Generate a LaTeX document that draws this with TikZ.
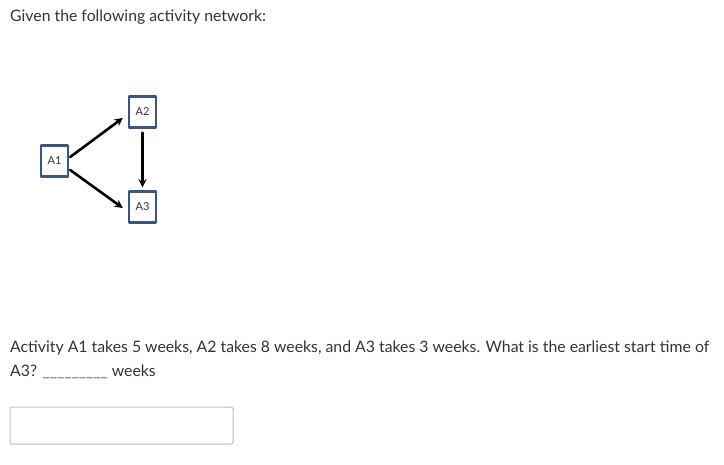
\documentclass[tikz,border=0pt]{standalone}
\usepackage{fontspec}
\setmainfont{Lato}
\usetikzlibrary{calc}
\usetikzlibrary{arrows}

\begin{document}
\begin{tikzpicture}[x=1pt, y=-1pt, line cap = round, line join = round, >=stealth]
\tikzstyle{act}=[draw={rgb,255:red,60;green,85;blue,125}, line width=2.4pt, fill=white, minimum width=27pt, minimum height=31pt, inner sep=0pt, font=\fontsize{11}{13}\selectfont, text=black!80]
\tikzstyle{txt}=[anchor=base west, inner sep=0pt, font=\fontsize{15.8}{19}\selectfont, text=black!80]
\useasboundingbox (0,0) rectangle (724,464);

\node[txt] (head) at (10,21) {Given the following activity network:};

\node[act] (A1) at (54.5,161) {A1};
\node[act] (A2) at (142.5,112) {A2};
\node[act] (A3) at (142.5,207) {A3};
\coordinate (up) at ($ (A1.east) + (1,-4) $);
\coordinate (down) at ($ (A1.east) + (1,9) $);

\draw[line width=2.6pt,-stealth,color=black] (up) -- ($ (A2.west) + (-5,6) $);
\draw[line width=2.6pt,-stealth,color=black] (down) -- ($ (A3.west) + (-5,1) $);
\draw[line width=2.6pt,-stealth,color=black] ($ (A2.south) + (0,4) $) -- ($ (A3.north) + (0,-3) $);

\node[txt] (q1) at (10,352) {Activity A1 takes 5 weeks, A2 takes 8 weeks, and A3 takes 3 weeks. What is the earliest start time of};
\node[txt] (q2) at (10,376) {A3? \textcolor{black!60}{\_\_\_\_\_\_\_\_\_} weeks};

\draw[black!25, line width=1pt, rounded corners=2pt] (10,407) rectangle (233,444);
\end{tikzpicture}
\end{document}
